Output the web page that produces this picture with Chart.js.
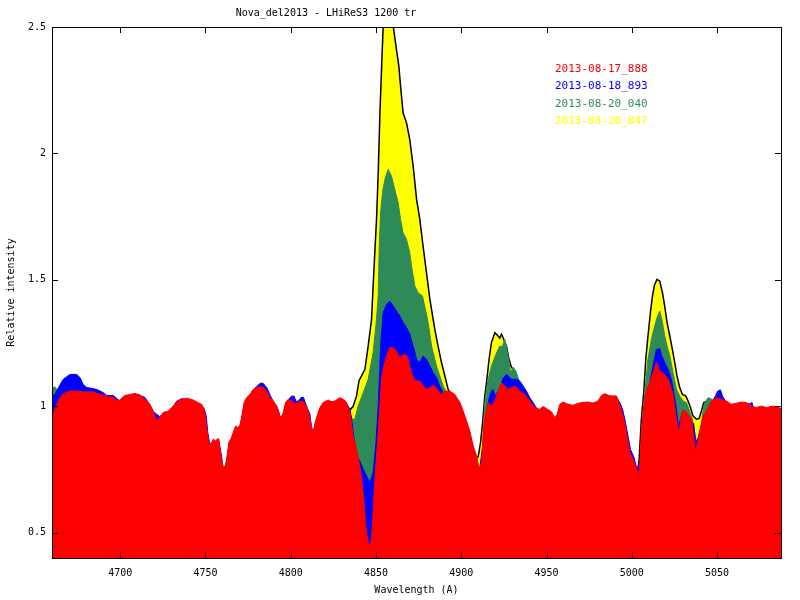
<!DOCTYPE html>
<html>
<head>
<meta charset="utf-8">
<script src="https://cdn.jsdelivr.net/npm/chart.js@4.4.1/dist/chart.umd.min.js"></script>
<style>
  html, body { margin: 0; padding: 0; background: #fff; }
  #c { display: block; }
</style>
</head>
<body>
<canvas id="c" width="800" height="600"></canvas>
<script>
// ---- spectra (wavelength in A, relative intensity) ----
const redWl = [4660.4,4661.8,4664.3,4666.6,4670.6,4674.5,4678.4,4684.2,4688.1,4692.1,4695.9,4698.9,4702.8,4708.7,4711.6,4714.5,4717.4,4719.4,4721,4723,4725.2,4728,4730.2,4733.1,4736,4739,4742.8,4745.5,4747.7,4749.3,4750.1,4750.7,4752,4753.6,4754.6,4756,4757.1,4757.9,4759.1,4760.4,4761.8,4762.8,4763.8,4764.9,4765.7,4766.9,4767.7,4768.9,4770.2,4771.2,4772.7,4774.1,4776.1,4778,4780,4782.9,4784.9,4786.4,4787.8,4789.7,4791.7,4793.1,4794.2,4795.6,4797,4798.5,4800.9,4802.4,4804.4,4806,4807.9,4809.9,4811.2,4812.6,4813.8,4814.6,4815.7,4817.1,4819,4822,4824,4825.9,4828.8,4830.8,4832.7,4834.7,4836.6,4838.6,4840.5,4842.5,4844,4845.4,4846.4,4847.4,4848.3,4849.3,4850.7,4852.3,4853.2,4854.6,4856.2,4858.1,4860,4862,4864,4866.3,4868.3,4869.8,4871.4,4873.4,4875.7,4877.7,4879.6,4881.6,4883.9,4885.9,4887.8,4890.4,4893.3,4896.2,4899.2,4901.1,4903.1,4905,4907,4909,4910.5,4911.9,4912.9,4913.8,4915.8,4917.8,4919.7,4921.6,4923.6,4925.5,4927.5,4929.5,4931.4,4934.3,4937.3,4940.2,4943.1,4946,4948,4950,4952.9,4954.8,4956.2,4957.8,4959.7,4962.6,4965.6,4968.5,4971.4,4974.4,4977.3,4980.2,4982.2,4984.1,4987.1,4991,4993,4994.9,4996.9,4998.8,5000.8,5002.7,5003.7,5004.7,5005.6,5007,5008.6,5010.5,5012.5,5014.4,5016,5017.4,5019.3,5021.3,5022.7,5024.2,5025.8,5026.6,5027.3,5028.1,5029.7,5031.6,5033.6,5035,5036.3,5037.3,5038.3,5039.8,5041.8,5043.7,5046.7,5049.6,5052.5,5055.4,5058.4,5061.3,5064.3,5067.2,5070.1,5073,5076,5078.9,5082.8,5086.7,5087.5];
const red   = [0.96,0.99,1.03,1.05,1.06,1.06,1.057,1.057,1.047,1.04,1.035,1.02,1.043,1.05,1.045,1.028,1.008,0.98,0.945,0.955,0.976,0.98,0.995,1.017,1.028,1.032,1.025,1.015,1.008,0.988,0.955,0.916,0.85,0.856,0.87,0.863,0.872,0.87,0.8,0.758,0.764,0.81,0.86,0.87,0.885,0.909,0.922,0.916,0.925,0.955,1.015,1.034,1.047,1.067,1.074,1.078,1.07,1.054,1.034,1.021,1.001,0.975,0.949,0.975,1.015,1.028,1.021,1.008,1.017,1.021,1.015,0.988,0.949,0.902,0.916,0.942,0.968,0.995,1.015,1.025,1.017,1.021,1.034,1.028,1.017,0.975,0.883,0.83,0.764,0.659,0.527,0.461,0.448,0.474,0.58,0.71,0.843,1.001,1.107,1.159,1.199,1.232,1.232,1.219,1.192,1.206,1.199,1.159,1.12,1.1,1.1,1.08,1.067,1.074,1.083,1.067,1.047,1.06,1.06,1.047,1.015,0.981,0.942,0.902,0.843,0.804,0.751,0.778,0.896,0.955,1.015,1.001,1.021,1.06,1.093,1.08,1.067,1.074,1.08,1.06,1.047,1.021,0.995,0.988,0.999,0.991,0.978,0.955,0.968,1.008,1.017,1.008,1.004,1.012,1.015,1.017,1.012,1.021,1.043,1.05,1.041,1.041,1.005,0.962,0.896,0.817,0.79,0.758,0.724,0.764,0.896,1.0,1.067,1.093,1.133,1.173,1.146,1.133,1.126,1.107,1.08,1.047,0.97,0.93,0.895,0.92,0.985,0.981,0.962,0.949,0.88,0.823,0.85,0.895,0.962,0.981,1.021,1.034,1.028,1.021,1.008,1.012,1.017,1.015,1.001,0.995,1.001,0.995,1.001,0.995,0.99];

const blueWl = [4660,4662,4664.3,4666.6,4670.6,4674.5,4676.5,4678.4,4680.4,4684.2,4687.1,4690,4692.1,4696,4699,4701,4703,4708.7,4714.5,4717.4,4719.4,4721,4723,4725.2,4728,4730.2,4733.1,4736,4742.8,4747.7,4749.3,4750.5,4751.3,4752.5,4754.6,4757.9,4759.5,4760.4,4761.8,4762.8,4763.8,4766.9,4770.2,4771.2,4772.7,4776.1,4778,4780,4782,4783.5,4785,4786.4,4787.8,4789.7,4791.7,4792.8,4793.6,4794.5,4795.6,4797,4798.5,4800.4,4802,4803,4804.4,4806,4807.5,4808.5,4809.9,4811.2,4812,4812.8,4813.8,4814.6,4815.7,4817.1,4819,4822,4825.9,4828.8,4832.7,4834.7,4835.7,4836.6,4838.6,4840.5,4842.5,4844.5,4846.4,4848.3,4849.9,4851.3,4852.8,4854.2,4856.2,4858.1,4860.1,4862,4864,4865.9,4867.9,4869.8,4871.8,4873.8,4875.7,4877.6,4879.6,4881.6,4883.5,4885.5,4887.4,4889.4,4891.5,4893.3,4896.2,4899.2,4901.1,4903.1,4905,4907,4909,4910.5,4911.5,4912.5,4913.8,4914.8,4916.3,4917.7,4918.7,4919.7,4920.7,4921.6,4923.6,4924.5,4926.5,4929.5,4932.4,4934.3,4936.3,4938.2,4940.2,4942.1,4943.5,4944.5,4946,4950,4952.9,4954.8,4956.2,4957.8,4962.6,4968.5,4974.4,4980.2,4984.1,4991,4993,4994.5,4995.9,4997.3,4999.2,5001.2,5003.1,5004,5004.7,5005.6,5007,5008.6,5010.5,5012.5,5014.4,5016.4,5017.5,5019.3,5021.3,5023.2,5024.6,5026.2,5027.1,5028.1,5029.7,5031.6,5033.6,5035,5036.3,5037.3,5038.3,5039.8,5041.8,5043.7,5046.7,5049,5050.4,5052,5053.2,5055.4,5058.4,5064.3,5067.2,5069.5,5070.5,5071.5,5073,5078.9,5087.5];
const blue   = [1.04,1.05,1.08,1.107,1.126,1.126,1.113,1.085,1.074,1.07,1.064,1.054,1.043,1.043,1.025,1.02,1.04,1.05,1.035,1.005,0.98,0.97,0.96,0.965,0.975,0.99,1.02,1.03,1.02,1.0,0.99,0.96,0.9,0.85,0.86,0.86,0.8,0.75,0.75,0.8,0.85,0.9,0.92,0.95,1.01,1.045,1.065,1.078,1.09,1.092,1.082,1.068,1.045,1.02,1.0,0.985,0.955,0.96,0.97,1.01,1.025,1.04,1.04,1.02,1.02,1.035,1.035,1.015,0.99,0.97,0.93,0.9,0.91,0.94,0.96,0.99,1.01,1.02,1.015,1.03,1.01,0.99,0.95,0.9,0.804,0.784,0.751,0.724,0.698,0.738,0.85,1.0,1.25,1.37,1.403,1.416,1.396,1.377,1.357,1.331,1.311,1.285,1.238,1.186,1.173,1.199,1.186,1.159,1.133,1.113,1.08,1.054,1.05,1.055,1.04,1.01,0.975,0.935,0.895,0.835,0.79,0.73,0.79,0.84,0.9,0.98,1.03,1.06,1.067,1.041,1.05,1.06,1.09,1.11,1.126,1.107,1.107,1.1,1.08,1.06,1.034,1.015,1.0,0.988,0.985,0.985,0.97,0.95,0.96,1.0,1.0,1.005,1.01,1.015,1.045,1.035,1.015,0.99,0.95,0.9,0.83,0.8,0.75,0.77,0.78,0.8,0.95,1.05,1.09,1.16,1.225,1.228,1.2,1.173,1.146,1.107,1.054,0.99,0.93,0.94,0.975,0.975,0.955,0.94,0.93,0.87,0.86,0.9,0.955,0.975,1.015,1.04,1.06,1.065,1.04,1.015,1.0,1.01,1.01,1.01,1.015,0.99,0.99,0.99,0.985];

const greenWl = [4660,4662,4663.5,4665,4670,4700,4718,4725,4748,4751,4758,4760.5,4763,4770,4776,4790,4794,4800,4810,4812.6,4816,4825,4833,4834.7,4836,4837.6,4839.5,4842.5,4845.4,4848.3,4850.3,4851.3,4851.9,4852.7,4853.8,4855.2,4857.1,4859.1,4861,4863,4864.4,4865.9,4867.9,4869.8,4870.8,4872.8,4874.7,4877.3,4880.6,4882.6,4885.5,4887.4,4889.4,4891.4,4893,4897,4900,4905,4909,4910.7,4912,4913.8,4914.8,4915.8,4917.7,4920.7,4922.6,4924,4925.5,4927.5,4928.9,4930.4,4932,4933.3,4935,4940,4945,4954.8,4958,4980,4984,4991,4994,4998,5003.5,5005,5006.6,5008.2,5009.5,5011.5,5013.4,5014.8,5016.4,5018,5019.3,5020.7,5022.3,5024.2,5026.2,5028.1,5030,5032,5033.9,5035.5,5037.3,5038.5,5040.3,5041.5,5042.8,5044.7,5046.5,5050,5060,5070,5087.5];
const green   = [1.075,1.075,1.06,1.0,0.98,0.95,0.93,0.93,0.9,0.84,0.8,0.74,0.8,0.9,1.0,0.96,0.93,0.98,0.95,0.89,0.95,1.0,0.99,0.97,0.95,0.949,1.0,1.054,1.107,1.212,1.344,1.436,1.634,1.765,1.845,1.897,1.937,1.91,1.858,1.805,1.739,1.686,1.66,1.607,1.555,1.475,1.449,1.436,1.331,1.238,1.159,1.12,1.08,1.054,1.04,1.03,1.0,0.89,0.79,0.74,0.77,1.015,1.067,1.107,1.159,1.212,1.238,1.235,1.265,1.199,1.133,1.153,1.14,1.113,1.08,1.01,0.97,0.94,0.99,1.0,1.03,1.02,0.95,0.8,0.71,0.75,0.975,1.093,1.186,1.265,1.317,1.35,1.377,1.331,1.278,1.238,1.199,1.133,1.067,1.041,1.021,1.015,0.981,0.95,0.88,0.85,0.88,0.97,1.015,1.034,1.03,1.01,0.99,0.98,0.97];

const yellowWl = [4660,4666,4700,4718,4725,4748,4751,4758,4760.5,4763,4770,4776,4790,4794,4800,4810,4812.6,4816,4825,4832.7,4834.7,4836.6,4838.6,4840,4841.5,4843.5,4845.4,4847.4,4848.3,4849.3,4850.3,4851.3,4852.3,4853.3,4854.2,4855.5,4857,4858.5,4860.1,4862,4863.4,4864.4,4865.9,4867.9,4869.8,4871.8,4873.8,4875.7,4877.6,4879.6,4881.6,4884.5,4886.4,4888.4,4890.4,4892.3,4894,4897,4900,4905,4908,4909.9,4911.3,4912.5,4913.8,4914.8,4916.3,4917.7,4919.7,4921.6,4922.6,4923.6,4924.6,4926.5,4928,4929.5,4930.4,4932,4934,4937,4940,4945,4954.8,4958,4980,4984,4991,4994,4998,5002,5003.1,5004.3,5005.6,5007,5008.2,5009.5,5010.9,5012.1,5013.4,5014.8,5016.4,5018,5019.3,5020.7,5022.3,5023.8,5025.2,5026.5,5028.1,5029.7,5031.6,5033,5034.4,5035.9,5037.9,5039.5,5040.8,5042.2,5044,5046,5050,5060,5070,5087.5];
const yellow   = [0.95,0.95,0.94,0.92,0.92,0.89,0.83,0.79,0.73,0.79,0.89,0.99,0.95,0.92,0.97,0.94,0.88,0.94,0.99,0.99,0.985,1.0,1.041,1.1,1.12,1.146,1.238,1.344,1.475,1.607,1.739,1.924,2.16,2.345,2.503,2.62,2.66,2.62,2.503,2.411,2.345,2.266,2.16,2.121,2.055,1.95,1.818,1.739,1.634,1.528,1.423,1.304,1.238,1.173,1.12,1.067,1.04,1.03,0.99,0.88,0.79,0.8,0.856,0.936,1.041,1.093,1.186,1.252,1.291,1.278,1.27,1.285,1.27,1.238,1.186,1.153,1.15,1.13,1.09,1.04,1.0,0.96,0.93,0.98,0.99,1.02,1.01,0.94,0.79,0.72,0.724,0.79,0.949,1.054,1.186,1.278,1.37,1.436,1.482,1.502,1.495,1.449,1.396,1.331,1.278,1.225,1.173,1.12,1.074,1.047,1.041,1.021,0.995,0.962,0.949,0.952,0.98,1.015,1.02,1.01,1.0,0.98,0.97,0.96];

const seriesNames  = ['2013-08-17_888', '2013-08-18_893', '2013-08-20_040', '2013-08-20_847'];
const seriesColors = ['#ff0000', '#0000ff', '#2e8b57', '#ffff00'];
const xTicks = [4700, 4750, 4800, 4850, 4900, 4950, 5000, 5050];
const yTicks = [0.5, 1, 1.5, 2, 2.5];
const chartTitle = 'Nova_del2013 - LHiReS3 1200 tr';

const FONT = "'DejaVu Sans Mono', monospace";
const pts = (wl, v) => wl.map((x, i) => ({x, y: v[i]}));

// dataset 0 is painted last, so red ends up in front like the original
const spectra = [[redWl, red], [blueWl, blue], [greenWl, green], [yellowWl, yellow]];
const datasets = spectra.map(([wl, v], i) => ({
  label: seriesNames[i],
  data: pts(wl, v),
  backgroundColor: seriesColors[i],
  borderColor: i === 3 ? '#000' : seriesColors[i],
  borderWidth: i === 3 ? 1.5 : 1,
  fill: 'start',
  pointRadius: 0,
  tension: 0
}));

// gnuplot-like frame: box, inward ticks on all sides, title and coloured key
const gnuFrame = {
  id: 'gnuFrame',
  afterDraw(chart) {
    const {ctx, chartArea: a, scales: {x, y}} = chart;
    ctx.save();
    ctx.strokeStyle = '#000';
    ctx.lineWidth = 1;
    ctx.strokeRect(Math.round(a.left) + 0.5, Math.round(a.top) + 0.5,
                   Math.round(a.right - a.left), Math.round(a.bottom - a.top));
    ctx.beginPath();
    xTicks.forEach(v => {
      const px = Math.round(x.getPixelForValue(v)) + 0.5;
      ctx.moveTo(px, a.bottom); ctx.lineTo(px, a.bottom - 6);
      ctx.moveTo(px, a.top); ctx.lineTo(px, a.top + 6);
    });
    yTicks.forEach(v => {
      const py = Math.round(y.getPixelForValue(v)) + 0.5;
      ctx.moveTo(a.left, py); ctx.lineTo(a.left + 6, py);
      ctx.moveTo(a.right, py); ctx.lineTo(a.right - 6, py);
    });
    ctx.stroke();

    ctx.fillStyle = '#000';
    ctx.font = '10px ' + FONT;
    ctx.textAlign = 'center';
    ctx.textBaseline = 'middle';
    ctx.fillText(chartTitle, 326, 13);

    ctx.font = '11px ' + FONT;
    ctx.textAlign = 'left';
    seriesNames.forEach((n, i) => {
      ctx.fillStyle = seriesColors[i];
      ctx.fillText(n, 555, 69 + i * 17.4);
    });
    ctx.restore();
  }
};

new Chart(document.getElementById('c'), {
  type: 'line',
  data: {datasets},
  options: {
    responsive: false,
    animation: false,
    devicePixelRatio: 1,
    layout: {padding: {top: 27, right: 19, left: 0, bottom: 0}},
    plugins: {legend: {display: false}, tooltip: {enabled: false}},
    scales: {
      x: {
        type: 'linear', min: 4660, max: 5087.5,
        afterBuildTicks: s => { s.ticks = xTicks.map(v => ({value: v})); },
        afterFit: s => { s.height = 42; },
        grid: {display: false, drawTicks: false},
        border: {display: false},
        ticks: {color: '#000', font: {family: FONT, size: 10}, padding: 9, maxRotation: 0, autoSkip: false, callback: v => String(v)},
        title: {display: true, text: 'Wavelength (A)', color: '#000', font: {family: FONT, size: 10}, padding: {top: 0, bottom: 4}}
      },
      y: {
        min: 0.4, max: 2.5,
        afterBuildTicks: s => { s.ticks = yTicks.map(v => ({value: v})); },
        afterFit: s => { s.width = 52; },
        grid: {display: false, drawTicks: false},
        border: {display: false},
        ticks: {color: '#000', font: {family: FONT, size: 10}, padding: 6, callback: v => String(v)},
        title: {display: true, text: 'Relative intensity', color: '#000', font: {family: FONT, size: 10}, padding: {top: 5, bottom: 0}}
      }
    }
  },
  plugins: [gnuFrame]
});
</script>
</body>
</html>
